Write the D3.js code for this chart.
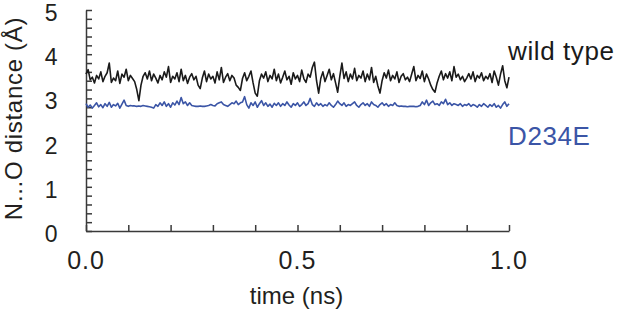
<!DOCTYPE html>
<html>
<head>
<meta charset="utf-8">
<script src="https://cdn.jsdelivr.net/npm/d3@7"></script>
<style>
  body { margin: 0; background: #fff; }
  text { font-family: "Liberation Sans", Arial, sans-serif; fill: #231f20; }
</style>
</head>
<body>
<div id="chart"></div>
<script>
// N...O distance (Å), one value every 5 ps from 0 to 1 ns
const wildType = [
  3.55, 3.65, 3.42, 3.48, 3.35, 3.52, 3.44, 3.60, 3.38, 3.50,
  3.58, 3.80, 3.36, 3.46, 3.40, 3.62, 3.34, 3.55, 3.48, 3.66,
  3.40, 3.52, 3.45, 3.38, 3.20, 2.95, 3.30, 3.50, 3.58, 3.44,
  3.62, 3.40, 3.55, 3.46, 3.35, 3.52, 3.42, 3.60, 3.48, 3.72,
  3.36, 3.50, 3.44, 3.58, 3.38, 3.66, 3.40, 3.52, 3.34, 3.48,
  3.56, 3.42, 3.50, 3.30, 3.22, 3.46, 3.62, 3.38, 3.55, 3.44,
  3.50, 3.35, 3.60, 3.42, 3.70, 3.36, 3.48, 3.56, 3.40, 3.52,
  3.46, 3.30, 3.25, 3.18, 3.45, 3.58, 3.40, 3.50, 3.62, 3.35,
  3.12, 3.05, 3.40, 3.55, 3.46, 3.60, 3.38, 3.52, 3.44, 3.66,
  3.40, 3.55, 3.35, 3.48, 3.62, 3.42, 3.50, 3.32, 3.58, 3.44,
  3.52, 3.38, 3.64, 3.45, 3.36, 3.55, 3.48, 3.70, 3.82, 3.40,
  3.12, 3.45, 3.60, 3.38, 3.52, 3.66, 3.42, 3.56, 3.35, 3.14,
  3.50, 3.80, 3.45, 3.60, 3.38, 3.55, 3.44, 3.68, 3.40, 3.52,
  3.46, 3.62, 3.38, 3.55, 3.42, 3.70, 3.36, 3.50, 3.28, 3.12,
  3.40, 3.58, 3.46, 3.64, 3.40, 3.52, 3.44, 3.60, 3.36, 3.50,
  3.56, 3.42, 3.48, 3.38, 3.55, 3.72, 3.40, 3.52, 3.45, 3.62,
  3.38, 3.55, 3.44, 3.30, 3.20, 3.14, 3.35, 3.50, 3.62, 3.42,
  3.56, 3.46, 3.60, 3.40, 3.72, 3.48, 3.55, 3.42, 3.50, 3.38,
  3.46, 3.56, 3.44, 3.60, 3.38, 3.52, 3.46, 3.58, 3.40, 3.50,
  3.44, 3.56, 3.36, 3.62, 3.48, 3.30, 3.55, 3.74, 3.40, 3.24,
  3.48
];

const d234e = [
  2.88, 2.80, 2.85, 2.78, 2.84, 2.90, 2.81, 2.86, 2.79, 2.88,
  2.82, 2.91, 2.80, 2.86, 2.83, 2.89, 2.78, 2.87, 2.96, 2.84,
  2.82, 2.84, 2.83, 2.83, 2.82, 2.83, 2.82, 2.84, 2.83, 2.82,
  2.81, 2.80, 2.78, 2.86, 2.82, 2.90, 2.84, 2.92, 2.82, 2.88,
  2.80, 2.90, 2.85, 2.94, 2.86, 3.02, 2.88, 2.92, 2.84, 2.90,
  2.84, 2.83, 2.82, 2.82, 2.83, 2.82, 2.82, 2.83, 2.84, 2.86,
  2.84, 2.83, 2.88, 2.90, 2.92, 2.86, 2.84, 2.82, 2.86, 2.90,
  2.88, 2.94, 2.86, 2.90, 2.92, 3.04, 2.86, 2.78, 2.90, 2.84,
  2.92, 2.80, 2.88, 2.95, 2.84, 2.90, 2.82, 2.87, 2.80, 2.89,
  2.84, 2.90, 2.82, 2.88, 2.84, 2.92, 2.85, 2.80, 2.88, 2.84,
  2.90, 2.82, 2.86, 2.92, 2.84, 2.88, 3.00, 2.86, 2.82, 2.90,
  2.84, 2.88, 2.82, 2.86, 2.83, 2.90, 2.84, 2.80, 2.86, 2.94,
  2.88, 2.84, 2.90, 2.82, 2.86, 2.84, 2.88, 2.92, 2.84, 2.80,
  2.86, 2.90, 2.84, 2.88, 2.82, 2.92, 2.86, 2.84, 2.80, 2.86,
  2.90, 2.84, 2.88, 2.82, 2.86, 2.84, 2.90, 2.84, 2.82, 2.83,
  2.82, 2.82, 2.81, 2.82, 2.82, 2.82, 2.81, 2.82, 2.84, 2.92,
  2.86, 2.96, 2.84, 2.90, 2.94, 2.86, 2.88, 2.84, 2.92, 2.88,
  2.98, 2.86, 2.90, 2.84, 2.88, 2.86, 2.84, 2.88, 2.82, 2.86,
  2.84, 2.88, 2.82, 2.86, 2.84, 2.80, 2.86, 2.82, 2.88, 2.84,
  2.80, 2.86, 2.82, 2.88, 2.80, 2.84, 2.78, 2.86, 2.92, 2.82,
  2.88
];

const timeStep = 0.005;               // ns between samples
const xTickLabels = [0, 0.5, 1.0];
const yTickLabels = [0, 1, 2, 3, 4, 5];
const seriesNames = ['wild type', 'D234E'];

const width = 617, height = 310;
const margin = { top: 10, right: 108, bottom: 79, left: 86 };
const innerW = width - margin.left - margin.right;
const innerH = height - margin.top - margin.bottom;

const svg = d3.select('#chart')
  .append('svg')
  .attr('width', width)
  .attr('height', height);

const g = svg.append('g')
  .attr('transform', `translate(${margin.left},${margin.top})`);

const x = d3.scaleLinear().domain([0, 1]).range([0, innerW]);
const y = d3.scaleLinear().domain([0, 5]).range([innerH, 0]);

const axisColor = '#3a3a3a';

// minor ticks point inward, no labels on the axis itself
const xAxis = g.append('g')
  .attr('transform', `translate(0,${innerH})`)
  .call(d3.axisBottom(x).tickValues(d3.range(0, 11).map(i => i / 10))
    .tickSize(-6).tickSizeOuter(0).tickFormat(''));

const yAxis = g.append('g')
  .call(d3.axisLeft(y).tickValues(d3.range(0, 26).map(i => i / 5))
    .tickSize(-6).tickSizeOuter(0).tickFormat(''));

[xAxis, yAxis].forEach(a => {
  a.selectAll('path, line').attr('stroke', axisColor).attr('stroke-width', 1.5);
});

// tick labels
g.selectAll('.xlab')
  .data(xTickLabels)
  .join('text')
  .attr('class', 'xlab')
  .attr('x', d => x(d))
  .attr('y', innerH + 38)
  .attr('text-anchor', 'middle')
  .attr('font-size', 25)
  .style('letter-spacing', '1px')
  .text(d => d.toFixed(1));

g.selectAll('.ylab')
  .data(yTickLabels)
  .join('text')
  .attr('class', 'ylab')
  .attr('x', -28)
  .attr('y', d => y(d) + 11)
  .attr('text-anchor', 'end')
  .attr('font-size', 23)
  .style('letter-spacing', '0.5px')
  .text(d => d);

// axis titles
g.append('text')
  .attr('x', innerW / 2 - 1)
  .attr('y', innerH + 73)
  .attr('text-anchor', 'middle')
  .attr('font-size', 24)
  .text('time (ns)');

g.append('text')
  .attr('transform', `translate(${-64},${innerH / 2 - 2}) rotate(-90)`)
  .attr('text-anchor', 'middle')
  .attr('font-size', 24)
  .style('letter-spacing', '0.7px')
  .text('N...O distance (Å)');

// lines
const series = [
  { name: seriesNames[0], values: wildType, color: '#1a1a1a', labelY: 3.87 },
  { name: seriesNames[1], values: d234e, color: '#3b55a6', labelY: 1.95 }
];

const line = d3.line()
  .x((d, i) => x(i * timeStep))
  .y(d => y(d));

g.selectAll('.series')
  .data(series)
  .join('path')
  .attr('class', 'series')
  .attr('fill', 'none')
  .attr('stroke', d => d.color)
  .attr('stroke-width', 1.6)
  .attr('stroke-linejoin', 'round')
  .attr('d', d => line(d.values));

g.selectAll('.slab')
  .data(series)
  .join('text')
  .attr('class', 'slab')
  .attr('x', innerW - 1)
  .attr('y', d => y(d.labelY))
  .attr('font-size', 26)
  .style('letter-spacing', '0.6px')
  .style('fill', d => d.color)
  .text(d => d.name);
</script>
</body>
</html>
